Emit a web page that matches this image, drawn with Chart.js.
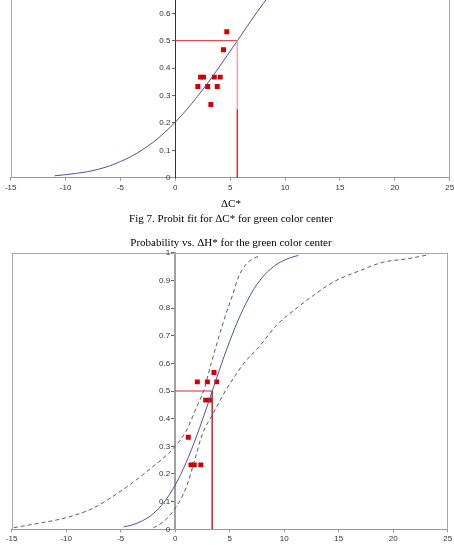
<!DOCTYPE html>
<html><head><meta charset="utf-8">
<script src="https://cdn.jsdelivr.net/npm/chart.js@4.4.0/dist/chart.umd.min.js"></script>
<style>
html,body{margin:0;padding:0;background:#fff;width:454px;height:545px;overflow:hidden;position:relative}
.wrap{position:absolute;left:0}
.t{position:absolute;left:0;width:462px;text-align:center;font:11px "Liberation Serif","Times New Roman",serif;line-height:13px;color:#000;white-space:nowrap;z-index:5}
</style></head><body>
<div class="wrap" style="top:-110px"><canvas id="c1" width="470" height="310"></canvas></div>
<div class="wrap" style="top:240px"><canvas id="c2" width="470" height="305"></canvas></div>
<div class="t" style="top:196.5px">ΔC*</div>
<div class="t" style="top:211.5px">Fig 7. Probit fit for ΔC* for green color center</div>
<div class="t" style="top:236px">Probability vs. ΔH* for the green color center</div>
<script>
// ---- Chart 1: ΔC* (top, cropped) ----
const fitCX = [-11,-10,-9,-8,-7,-6,-5,-4,-3,-2,-1,0,1,2,3,4,5,6,7,8,9,10];
const fitCY = [0.007,0.011,0.016,0.022,0.031,0.043,0.059,0.078,0.102,0.130,0.164,0.203,0.247,0.296,0.348,0.404,0.462,0.520,0.579,0.635,0.689,0.739];
const ptsCX = [2.05,2.30,2.57,2.94,3.24,3.55,3.82,4.09,4.39,4.69];
const ptsCY = [0.333,0.367,0.367,0.333,0.267,0.367,0.333,0.367,0.467,0.533];
const medianC = 5.65;
const breakC = 0.25;

// ---- Chart 2: ΔH* ----
const fitHX = [-4.7,-4,-3,-2,-1,0,1,2,3,4,5,6,7,8,9,10,11,11.3];
const fitHY = [0.009,0.015,0.031,0.057,0.099,0.160,0.241,0.341,0.453,0.570,0.680,0.776,0.854,0.911,0.949,0.973,0.987,0.990];
const upperHX = [-14.8,-12.5,-10,-7.5,-5,-2.5,0,1,2,2.6,3.3,4,4.75,5.25,5.8,6.5,7,7.8];
const upperHY = [0.006,0.022,0.042,0.077,0.138,0.212,0.300,0.355,0.445,0.500,0.600,0.695,0.790,0.845,0.912,0.958,0.975,0.990];
const lowerHX = [-2.0,-1,0,1,1.7,2.5,3.5,4.6,5.5,6.3,7.8,9.3,10.9,12.7,14.5,17,19.1,21.3,23.3];
const lowerHY = [0.005,0.030,0.076,0.150,0.238,0.345,0.420,0.500,0.555,0.600,0.665,0.738,0.792,0.846,0.894,0.936,0.966,0.978,0.993];
const ptsHX = [1.20,1.45,1.75,2.35,2.80,3.19,2.03,2.95,3.81,3.56];
const ptsHY = [0.333,0.233,0.233,0.233,0.467,0.467,0.533,0.533,0.533,0.567];
const medianH = 3.4;

const xTicks = [-15,-10,-5,0,5,10,15,20,25];

const zip = (xs, ys) => xs.map((x, i) => ({x, y: ys[i]}));

const tickFont = {family: '"Liberation Sans", Arial, sans-serif', size: 8};

const frame = {
  id: 'frame',
  afterDraw(chart) {
    const {ctx, chartArea: a, scales} = chart;
    ctx.save();
    ctx.strokeStyle = '#a8a8a8';
    ctx.lineWidth = 1;
    ctx.beginPath();
    ctx.moveTo(Math.round(a.left) + 0.5, a.top);
    ctx.lineTo(Math.round(a.left) + 0.5, a.bottom);
    ctx.moveTo(Math.round(a.right) - 0.5, a.top);
    ctx.lineTo(Math.round(a.right) - 0.5, a.bottom);
    ctx.moveTo(a.left, Math.round(a.top) + 0.5);
    ctx.lineTo(a.right, Math.round(a.top) + 0.5);
    ctx.stroke();
    // y tick labels, left of the y axis placed at x = 0
    const ys = scales.y, x0 = scales.x.getPixelForValue(0);
    ctx.fillStyle = '#333';
    ctx.font = '8px "Liberation Sans", Arial, sans-serif';
    ctx.textAlign = 'right';
    ctx.textBaseline = 'middle';
    ys.ticks.forEach(t => {
      ctx.fillText(t.label, x0 - 5, ys.getPixelForValue(t.value));
    });
    ctx.restore();
  }
};

function makeOptions(pad, xHeight, yAxisColor, yAxisWidth) {
  return {
    responsive: false,
    animation: false,
    events: [],
    layout: {padding: pad},
    plugins: {legend: {display: false}, tooltip: {enabled: false}},
    scales: {
      x: {
        type: 'linear', min: -15, max: 25,
        afterBuildTicks: s => { s.ticks = xTicks.map(v => ({value: v})); },
        ticks: {font: tickFont, color: '#333', padding: 2, maxRotation: 0, autoSkip: false},
        grid: {drawOnChartArea: false, tickLength: 3, color: '#999'},
        border: {color: '#999', width: 1},
        afterFit: s => { s.height = xHeight; }
      },
      y: {
        type: 'linear', min: 0, max: 1, position: {x: 0},
        ticks: {stepSize: 0.1, display: false, callback: v => String(+Number(v).toFixed(1))},
        grid: {drawOnChartArea: false, tickLength: 3, color: '#666'},
        border: {color: yAxisColor, width: yAxisWidth}
      }
    }
  };
}

new Chart(document.getElementById('c1'), {
  type: 'scatter',
  data: {datasets: [
    {data: [{x: 0, y: 0.5}, {x: medianC, y: 0.5}], showLine: true, borderColor: '#d42a2a', borderWidth: 1, pointRadius: 0},
    {data: [{x: medianC, y: 0.5}, {x: medianC, y: breakC}], showLine: true, borderColor: '#eaa6a6', borderWidth: 1, pointRadius: 0},
    {data: [{x: medianC, y: breakC}, {x: medianC, y: 0}], showLine: true, borderColor: '#d42a2a', borderWidth: 1, pointRadius: 0},
    {data: zip(fitCX, fitCY), showLine: true, borderColor: '#5050a8', borderWidth: 1, pointRadius: 0, cubicInterpolationMode: 'monotone'},
    {data: zip(ptsCX, ptsCY), pointStyle: 'rect', pointRadius: 3.5, backgroundColor: '#d00000', borderWidth: 0}
  ]},
  options: makeOptions({left: 10.7, right: 20.3, top: 13.7, bottom: 0}, 22.3, '#333', 1),
  plugins: [frame]
});

new Chart(document.getElementById('c2'), {
  type: 'scatter',
  data: {datasets: [
    {data: zip(upperHX, upperHY), showLine: true, borderColor: '#556255', borderWidth: 1, borderDash: [4, 3], pointRadius: 0, cubicInterpolationMode: 'monotone'},
    {data: zip(lowerHX, lowerHY), showLine: true, borderColor: '#556255', borderWidth: 1, borderDash: [4, 3], pointRadius: 0, cubicInterpolationMode: 'monotone'},
    {data: zip(fitHX, fitHY), showLine: true, borderColor: '#5050a8', borderWidth: 1, pointRadius: 0, cubicInterpolationMode: 'monotone'},
    {data: [{x: 0, y: 0.5}, {x: medianH, y: 0.5}, {x: medianH, y: 0}], showLine: true, borderColor: '#d42a2a', borderWidth: 1, pointRadius: 0},
    {data: zip(ptsHX, ptsHY), pointStyle: 'rect', pointRadius: 3.5, backgroundColor: '#d00000', borderWidth: 0}
  ]},
  options: makeOptions({left: 11.7, right: 22.3, top: 12.7, bottom: 0}, 15.7, '#a0a0a0', 2),
  plugins: [frame]
});
</script>
</body></html>
